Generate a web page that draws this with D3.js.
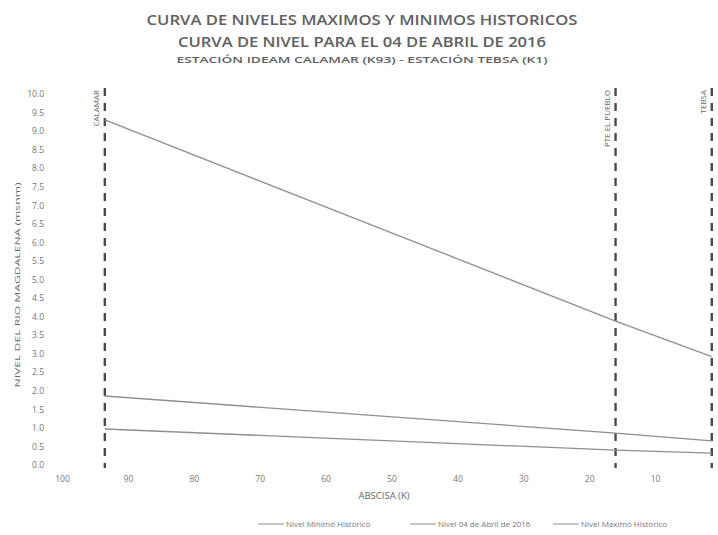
<!DOCTYPE html>
<html>
<head>
<meta charset="utf-8">
<script src="https://cdn.jsdelivr.net/npm/d3@7"></script>
<style>
    body { margin: 0; background: #fff; }
    text { font-family: "Open Sans", "Liberation Sans", sans-serif; fill: #5a5a5a; }
    .tick text { font-size: 8.5px; fill: #777; }
    .tick line, .domain { display: none; }
</style>
</head>
<body>
<div id="chart"></div>
<script>
// Stations (abscisa K) and levels
let stations = ["CALAMAR", "PTE EL PUEBLO", "TEBSA"];
let abscisa = [93.5, 16, 1.4];
let nivelMinimo = [0.97, 0.40, 0.32];
let nivelAbril = [1.86, 0.86, 0.65];
let nivelMaximo = [9.30, 3.88, 2.92];

let xTicks = [100, 90, 80, 70, 60, 50, 40, 30, 20, 10];
let yTicks = d3.range(0, 10.01, 0.5);

let series = [
    {name: "Nivel Minimo Historico", values: nivelMinimo},
    {name: "Nivel 04 de Abril de 2016", values: nivelAbril},
    {name: "Nivel Maximo Historico", values: nivelMaximo}
];

let width = 718, height = 535;

let svg = d3.select("#chart").append("svg")
    .attr("width", width)
    .attr("height", height);

// Titles
let titles = [
    {t: "CURVA DE NIVELES MAXIMOS Y MINIMOS HISTORICOS", y: 25, size: 15, len: 431},
    {t: "CURVA DE NIVEL PARA EL 04 DE ABRIL DE 2016", y: 47, size: 15, len: 368},
    {t: "ESTACIÓN IDEAM CALAMAR (K93) - ESTACIÓN TEBSA (K1)", y: 63, size: 9.5, len: 371}
];
svg.selectAll(".title")
    .data(titles)
    .enter().append("text")
    .attr("class", "title")
    .attr("x", 362)
    .attr("y", d => d.y)
    .attr("text-anchor", "middle")
    .attr("font-size", d => d.size)
    .attr("font-weight", 600)
    .attr("textLength", d => d.len)
    .attr("lengthAdjust", "spacingAndGlyphs")
    .style("fill", "#606060")
    .text(d => d.t);

// Scales and axes
let x = d3.scaleLinear().domain([100, 0]).range([62, 721]);
let y = d3.scaleLinear().domain([0, 10]).range([465, 94]);

let xAxis = d3.axisBottom(x).tickValues(xTicks).tickFormat(d3.format(".0f")).tickSize(0);
let yAxis = d3.axisLeft(y).tickValues(yTicks).tickFormat(d3.format(".1f")).tickSize(0);

svg.append("g")
    .attr("class", "x-axis axis")
    .attr("transform", "translate(0,471)")
    .call(xAxis)
    .selectAll("text").attr("dy", "0.9em");

svg.append("g")
    .attr("class", "y-axis axis")
    .attr("transform", "translate(47,0)")
    .call(yAxis);

// Axis titles
svg.append("text")
    .attr("x", 384)
    .attr("y", 499)
    .attr("text-anchor", "middle")
    .attr("font-size", 9.5)
    .style("fill", "#666")
    .text("ABSCISA (K)");

svg.append("text")
    .attr("transform", "translate(20,285) rotate(-90)")
    .attr("text-anchor", "middle")
    .attr("font-size", 8)
    .attr("textLength", 205)
    .attr("lengthAdjust", "spacingAndGlyphs")
    .style("fill", "#666")
    .text("NIVEL DEL RIO MAGDALENA (msnm)");

// Station dashed lines
let stationG = svg.selectAll(".station")
    .data(stations)
    .enter().append("g")
    .attr("class", "station");

stationG.append("line")
    .attr("x1", (d, i) => x(abscisa[i]))
    .attr("x2", (d, i) => x(abscisa[i]))
    .attr("y1", 88)
    .attr("y2", y(0) + 3)
    .attr("stroke", "#4a4a4a")
    .attr("stroke-width", 2.4)
    .attr("stroke-dasharray", "8,7");

stationG.append("text")
    .attr("transform", (d, i) => "translate(" + (x(abscisa[i]) - 6) + ",90) rotate(-90)")
    .attr("text-anchor", "end")
    .attr("font-size", 8)
    .style("fill", "#666")
    .text(d => d);

// Level lines
let line = d3.line()
    .x((d, i) => x(abscisa[i]))
    .y(d => y(d));

svg.selectAll(".level")
    .data(series)
    .enter().append("path")
    .attr("class", "level")
    .attr("d", d => line(d.values))
    .attr("fill", "none")
    .attr("stroke", "#8f8f8f")
    .attr("stroke-width", 1.3);

// Legend
let legendX = [258, 410, 553];
let legend = svg.selectAll(".legend")
    .data(series)
    .enter().append("g")
    .attr("class", "legend")
    .attr("transform", (d, i) => "translate(" + legendX[i] + ",524)");

legend.append("line")
    .attr("x1", 0).attr("x2", 26)
    .attr("stroke", "#8f8f8f")
    .attr("stroke-width", 1);

legend.append("text")
    .attr("x", 28)
    .attr("dy", "0.35em")
    .attr("font-size", 8)
    .style("fill", "#777")
    .text(d => d.name);
</script>
</body>
</html>
